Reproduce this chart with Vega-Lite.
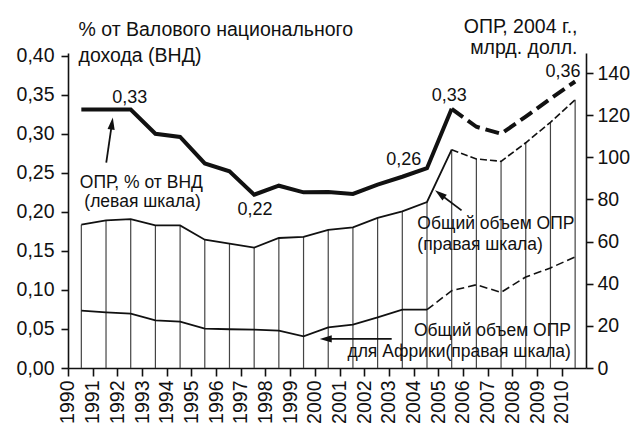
{
  "$schema": "https://vega.github.io/schema/vega-lite/v6.json",
  "width": 518,
  "height": 315,
  "autosize": {"type": "none"},
  "padding": {"left": 68, "top": 53, "right": 52, "bottom": 59},
  "background": "white",
  "config": {
    "view": {"stroke": null},
    "font": "Liberation Sans",
    "axis": {"domainColor": "#111", "tickColor": "#111", "labelColor": "#111", "titleColor": "#111", "grid": false, "domainWidth": 1.6, "tickWidth": 1.6, "labelFont": "Liberation Sans", "titleFont": "Liberation Sans"}
  },
  "datasets": {
    "gni": [
      {"year": 1990, "v": 0.331}, {"year": 1991, "v": 0.331}, {"year": 1992, "v": 0.331},
      {"year": 1993, "v": 0.300}, {"year": 1994, "v": 0.296}, {"year": 1995, "v": 0.262},
      {"year": 1996, "v": 0.252}, {"year": 1997, "v": 0.222}, {"year": 1998, "v": 0.2335},
      {"year": 1999, "v": 0.225}, {"year": 2000, "v": 0.2254}, {"year": 2001, "v": 0.223},
      {"year": 2002, "v": 0.235}, {"year": 2003, "v": 0.245}, {"year": 2004, "v": 0.256},
      {"year": 2005, "v": 0.332}, {"year": 2006, "v": 0.309}, {"year": 2007, "v": 0.300},
      {"year": 2008, "v": 0.322}, {"year": 2009, "v": 0.345}, {"year": 2010, "v": 0.367}
    ],
    "oda": [
      {"year": 1990, "s": "total", "v": 68.0}, {"year": 1991, "s": "total", "v": 70.1}, {"year": 1992, "s": "total", "v": 70.7},
      {"year": 1993, "s": "total", "v": 67.7}, {"year": 1994, "s": "total", "v": 67.7}, {"year": 1995, "s": "total", "v": 60.9},
      {"year": 1996, "s": "total", "v": 59.0}, {"year": 1997, "s": "total", "v": 57.1}, {"year": 1998, "s": "total", "v": 61.7},
      {"year": 1999, "s": "total", "v": 62.2}, {"year": 2000, "s": "total", "v": 65.6}, {"year": 2001, "s": "total", "v": 66.7},
      {"year": 2002, "s": "total", "v": 71.2}, {"year": 2003, "s": "total", "v": 74.3}, {"year": 2004, "s": "total", "v": 78.8},
      {"year": 2005, "s": "total", "v": 103.6}, {"year": 2006, "s": "total", "v": 99.2}, {"year": 2007, "s": "total", "v": 98.1},
      {"year": 2008, "s": "total", "v": 106.9}, {"year": 2009, "s": "total", "v": 116.6}, {"year": 2010, "s": "total", "v": 127.3},
      {"year": 1990, "s": "africa", "v": 27.2}, {"year": 1991, "s": "africa", "v": 26.4}, {"year": 1992, "s": "africa", "v": 25.8},
      {"year": 1993, "s": "africa", "v": 22.6}, {"year": 1994, "s": "africa", "v": 22.0}, {"year": 1995, "s": "africa", "v": 18.7},
      {"year": 1996, "s": "africa", "v": 18.4}, {"year": 1997, "s": "africa", "v": 18.2}, {"year": 1998, "s": "africa", "v": 17.7},
      {"year": 1999, "s": "africa", "v": 15.0}, {"year": 2000, "s": "africa", "v": 19.3}, {"year": 2001, "s": "africa", "v": 20.6},
      {"year": 2002, "s": "africa", "v": 24.0}, {"year": 2003, "s": "africa", "v": 27.7}, {"year": 2004, "s": "africa", "v": 27.7},
      {"year": 2005, "s": "africa", "v": 36.7}, {"year": 2006, "s": "africa", "v": 39.5}, {"year": 2007, "s": "africa", "v": 35.9},
      {"year": 2008, "s": "africa", "v": 43.2}, {"year": 2009, "s": "africa", "v": 47.5}, {"year": 2010, "s": "africa", "v": 52.7}
    ],
    "labelsL": [
      {"year": 1991.96, "v": 0.3398, "t": "0,33", "k": "num"},
      {"year": 1997.03, "v": 0.1955, "t": "0,22", "k": "num"},
      {"year": 2003.06, "v": 0.2604, "t": "0,26", "k": "num"},
      {"year": 2004.90, "v": 0.3415, "t": "0,33", "k": "num"},
      {"year": 2009.51, "v": 0.3727, "t": "0,36", "k": "num"},
      {"year": 1992.43, "v": 0.231, "t": "ОПР, % от ВНД", "k": "note"},
      {"year": 1992.48, "v": 0.2066, "t": "(левая шкала)", "k": "note"}
    ],
    "textRL": [
      {"year": 2003.61, "v": 66.0, "t": "Общий объем ОПР"},
      {"year": 2003.61, "v": 56.1, "t": "(правая шкала)"}
    ],
    "textRR": [
      {"year": 2009.83, "v": 15.0, "t": "Общий объем ОПР"},
      {"year": 2009.83, "v": 5.0, "t": "для Африки(правая шкала)"}
    ],
    "arrowsL": [
      {"id": "a1", "year": 1991.24, "v": 0.3132, "year2": 1991.01, "v2": 0.263}
    ],
    "arrowsR": [
      {"id": "a2", "year": 2004.52, "v": 82.6, "year2": 2005.40, "v2": 74.8},
      {"id": "a3", "year": 1999.90, "v": 13.8, "year2": 2002.57, "v2": 13.8}
    ]
  },
  "layer": [
    {
      "encoding": {
        "x": {"field": "year", "type": "quantitative", "scale": {"domain": [1989.46, 2010.44], "nice": false, "zero": false},
          "axis": {"values": [1990,1991,1992,1993,1994,1995,1996,1997,1998,1999,2000,2001,2002,2003,2004,2005,2006,2007,2008,2009,2010],
            "format": "d", "labelAngle": -90, "tickOffset": -13.4, "tickSize": 8, "labelPadding": 4,
            "labelFontSize": 19.5, "title": null, "labelFlush": false, "labelOverlap": false, "labelBound": false,
            "encode": {"labels": {"update": {"dy": {"value": 7.5}}}}}},
        "y": {"field": "v", "type": "quantitative", "scale": {"domain": [0, 149.5], "nice": false},
          "axis": {"orient": "right", "values": [0,20,40,60,80,100,120,140], "format": "d", "tickSize": 7, "labelPadding": 4,
            "labelFontSize": 19.5, "title": ["ОПР, 2004 г.,", "млрд. долл."], "titleAngle": 0, "titleAlign": "right",
            "titleBaseline": "alphabetic", "titleX": -9, "titleY": -21, "titleFontSize": 19.5, "titleFontWeight": "normal", "titleLineHeight": 21.5}}
      },
      "layer": [
        {
          "data": {"name": "oda"},
          "transform": [{"filter": "datum.s == 'total'"}],
          "mark": {"type": "rule", "stroke": "#444", "strokeWidth": 1.2},
          "encoding": {"y2": {"datum": 0}}
        },
        {
          "data": {"name": "oda"},
          "transform": [{"filter": "datum.s == 'total' && datum.year <= 2005"}],
          "mark": {"type": "line", "stroke": "#111", "strokeWidth": 1.8},
          "encoding": {}
        },
        {
          "data": {"name": "oda"},
          "transform": [{"filter": "datum.s == 'total' && datum.year >= 2005"}],
          "mark": {"type": "line", "stroke": "#111", "strokeWidth": 1.6, "strokeDash": [7, 3]},
          "encoding": {}
        },
        {
          "data": {"name": "oda"},
          "transform": [{"filter": "datum.s == 'africa' && datum.year <= 2004"}],
          "mark": {"type": "line", "stroke": "#111", "strokeWidth": 1.8},
          "encoding": {}
        },
        {
          "data": {"name": "oda"},
          "transform": [{"filter": "datum.s == 'africa' && datum.year >= 2004"}],
          "mark": {"type": "line", "stroke": "#111", "strokeWidth": 1.6, "strokeDash": [8, 4]},
          "encoding": {}
        },
        {
          "data": {"name": "textRL"},
          "mark": {"type": "text", "align": "left", "baseline": "alphabetic", "fontSize": 17.5, "fill": "#111"},
          "encoding": {"text": {"field": "t"}}
        },
        {
          "data": {"name": "textRR"},
          "mark": {"type": "text", "align": "right", "baseline": "alphabetic", "fontSize": 17.5, "fill": "#111"},
          "encoding": {"text": {"field": "t"}}
        },
        {
          "data": {"name": "arrowsR"},
          "mark": {"type": "rule", "stroke": "#111", "strokeWidth": 1.8},
          "encoding": {"x2": {"field": "year2"}, "y2": {"field": "v2"}}
        },
        {
          "data": {"name": "arrowsR"},
          "transform": [{"filter": "datum.id == 'a2'"}],
          "mark": {"type": "point", "shape": "M0,-1L0.6,1L-0.6,1Z", "filled": true, "fill": "#111", "opacity": 1, "size": 144, "angle": 307}
        },
        {
          "data": {"name": "arrowsR"},
          "transform": [{"filter": "datum.id == 'a3'"}],
          "mark": {"type": "point", "shape": "M0,-1L0.6,1L-0.6,1Z", "filled": true, "fill": "#111", "opacity": 1, "size": 144, "angle": 270}
        }
      ]
    },
    {
      "encoding": {
        "x": {"field": "year", "type": "quantitative", "scale": {"domain": [1989.46, 2010.44], "nice": false, "zero": false},
          "axis": {"values": [1990,1991,1992,1993,1994,1995,1996,1997,1998,1999,2000,2001,2002,2003,2004,2005,2006,2007,2008,2009,2010],
            "format": "d", "labelAngle": -90, "tickOffset": -13.4, "tickSize": 8, "labelPadding": 4,
            "labelFontSize": 19.5, "title": null, "labelFlush": false, "labelOverlap": false, "labelBound": false,
            "encode": {"labels": {"update": {"dy": {"value": 7.5}}}}}},
        "y": {"field": "v", "type": "quantitative", "scale": {"domain": [0, 0.4035], "nice": false},
          "axis": {"orient": "left", "values": [0,0.05,0.1,0.15,0.2,0.25,0.3,0.35,0.4],
            "labelExpr": "replace(format(datum.value, '.2f'), '.', ',')", "tickSize": 7, "labelPadding": 7,
            "labelFontSize": 19.5, "title": ["% от Валового национального", "дохода (ВНД)"], "titleAngle": 0, "titleAlign": "left",
            "titleBaseline": "alphabetic", "titleX": 10, "titleY": -18, "titleFontSize": 19.5, "titleFontWeight": "normal", "titleLineHeight": 26}}
      },
      "layer": [
        {
          "data": {"name": "gni"},
          "transform": [{"filter": "datum.year <= 2005"}],
          "mark": {"type": "line", "stroke": "#111", "strokeWidth": 4},
          "encoding": {}
        },
        {
          "data": {"name": "gni"},
          "transform": [{"filter": "datum.year >= 2005"}],
          "mark": {"type": "line", "stroke": "#111", "strokeWidth": 4, "strokeDash": [14, 6]},
          "encoding": {}
        },
        {
          "data": {"name": "labelsL"},
          "transform": [{"filter": "datum.k == 'num'"}],
          "mark": {"type": "text", "align": "center", "baseline": "alphabetic", "fontSize": 18, "fill": "#111"},
          "encoding": {"text": {"field": "t"}}
        },
        {
          "data": {"name": "labelsL"},
          "transform": [{"filter": "datum.k == 'note'"}],
          "mark": {"type": "text", "align": "center", "baseline": "alphabetic", "fontSize": 17.5, "fill": "#111"},
          "encoding": {"text": {"field": "t"}}
        },
        {
          "data": {"name": "arrowsL"},
          "mark": {"type": "rule", "stroke": "#111", "strokeWidth": 1.8},
          "encoding": {"x2": {"field": "year2"}, "y2": {"field": "v2"}}
        },
        {
          "data": {"name": "arrowsL"},
          "mark": {"type": "point", "shape": "M0,-1L0.6,1L-0.6,1Z", "filled": true, "fill": "#111", "opacity": 1, "size": 144, "angle": 8}
        }
      ]
    }
  ],
  "resolve": {"scale": {"y": "independent"}, "axis": {"y": "independent"}}
}
